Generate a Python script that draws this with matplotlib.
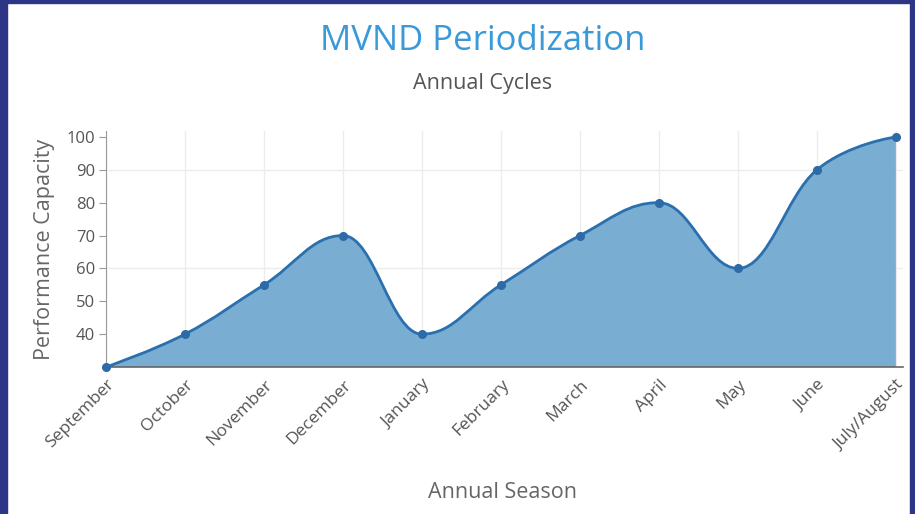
import numpy as np
import matplotlib.pyplot as plt
from matplotlib.path import Path
from matplotlib.patches import PathPatch, Rectangle

# chart data
months = ['September', 'October', 'November', 'December', 'January', 'February',
          'March', 'April', 'May', 'June', 'July/August']
capacity = [30, 40, 55, 70, 40, 55, 70, 80, 60, 90, 100]
y_ticks = [40, 50, 60, 70, 80, 90, 100]

plt.rcParams['font.family'] = ['Open Sans', 'DejaVu Sans']


def spline_path(xs, ys, smoothing=1.5):
    # highcharts-style spline control points
    n = len(xs)
    verts = [(xs[0], ys[0])]
    codes = [Path.MOVETO]
    right_prev = (xs[0], ys[0])
    for i in range(1, n):
        px, py = xs[i], ys[i]
        lx, ly = xs[i - 1], ys[i - 1]
        if i < n - 1:
            nx, ny = xs[i + 1], ys[i + 1]
            d = smoothing + 1
            lcx = (smoothing * px + lx) / d
            lcy = (smoothing * py + ly) / d
            rcx = (smoothing * px + nx) / d
            rcy = (smoothing * py + ny) / d
            if rcx != lcx:
                corr = (rcy - lcy) * (rcx - px) / (rcx - lcx) + py - rcy
                lcy += corr
                rcy += corr
            if lcy > ly and lcy > py:
                lcy = max(ly, py)
                rcy = 2 * py - lcy
            elif lcy < ly and lcy < py:
                lcy = min(ly, py)
                rcy = 2 * py - lcy
            if rcy > ny and rcy > py:
                rcy = max(ny, py)
                lcy = 2 * py - rcy
            elif rcy < ny and rcy < py:
                rcy = min(ny, py)
                lcy = 2 * py - rcy
        else:
            lcx, lcy = px, py
            rcx, rcy = px, py
        verts += [right_prev, (lcx, lcy), (px, py)]
        codes += [Path.CURVE4] * 3
        right_prev = (rcx, rcy)
    return verts, codes


fig = plt.figure(figsize=(9.15, 5.14), dpi=100)
navy = '#2d3586'
fig.patches.append(Rectangle((0, 0), 7 / 915, 1, transform=fig.transFigure, color=navy, zorder=0))
fig.patches.append(Rectangle((0, 1 - 3 / 514), 1, 3 / 514, transform=fig.transFigure, color=navy, zorder=0))
fig.patches.append(Rectangle((1 - 5 / 915, 0), 5 / 915, 1, transform=fig.transFigure, color=navy, zorder=0))

ax = fig.add_axes([106 / 915, 1 - 367 / 514, (903 - 106) / 915, (367 - 131) / 514])

x = np.arange(len(months))
verts, codes = spline_path(list(x), capacity)

fill_verts = verts + [(x[-1], 30), (x[0], 30), (x[0], capacity[0])]
fill_codes = codes + [Path.LINETO, Path.LINETO, Path.CLOSEPOLY]
ax.add_patch(PathPatch(Path(fill_verts, fill_codes), facecolor='#79add1', edgecolor='none', zorder=2))
ax.add_patch(PathPatch(Path(verts, codes), facecolor='none', edgecolor='#2a6fae', lw=2, zorder=3))
ax.plot(x, capacity, 'o', color='#2d6aa8', markersize=5.5, zorder=4, clip_on=False)

ax.set_xlim(0, 10.09)
ax.set_ylim(30, 101.8)

ax.set_xticks(x)
ax.set_xticklabels(months, rotation=45, ha='right', rotation_mode='anchor',
                   fontsize=12.5, color='#555555')
ax.set_yticks(y_ticks)
ax.tick_params(axis='y', labelsize=12, labelcolor='#555555', length=5, color='#999999', pad=3)
ax.tick_params(axis='x', length=0, pad=7)

for v in [60, 90]:
    ax.axhline(v, color='#ececec', lw=1, zorder=1)
for xi in x:
    ax.axvline(xi, color='#ececec', lw=1, zorder=1)

for s in ['top', 'right']:
    ax.spines[s].set_visible(False)
ax.spines['left'].set_color('#999999')
ax.spines['bottom'].set_color('#666666')
ax.spines['bottom'].set_linewidth(1.2)

ax.set_ylabel('Performance Capacity', fontsize=15.5, color='#666666', labelpad=8)
fig.text(502 / 915, 1 - 493 / 514, 'Annual Season', fontsize=15.5, color='#666666',
         ha='center', va='center')
fig.text(483 / 915, 1 - 41 / 514, 'MVND Periodization', fontsize=25, color='#3a99d8',
         ha='center', va='center')
fig.text(483 / 915, 1 - 83 / 514, 'Annual Cycles', fontsize=15.5, color='#555555',
         ha='center', va='center')

fig.savefig('out.png', dpi=100, facecolor='white')
